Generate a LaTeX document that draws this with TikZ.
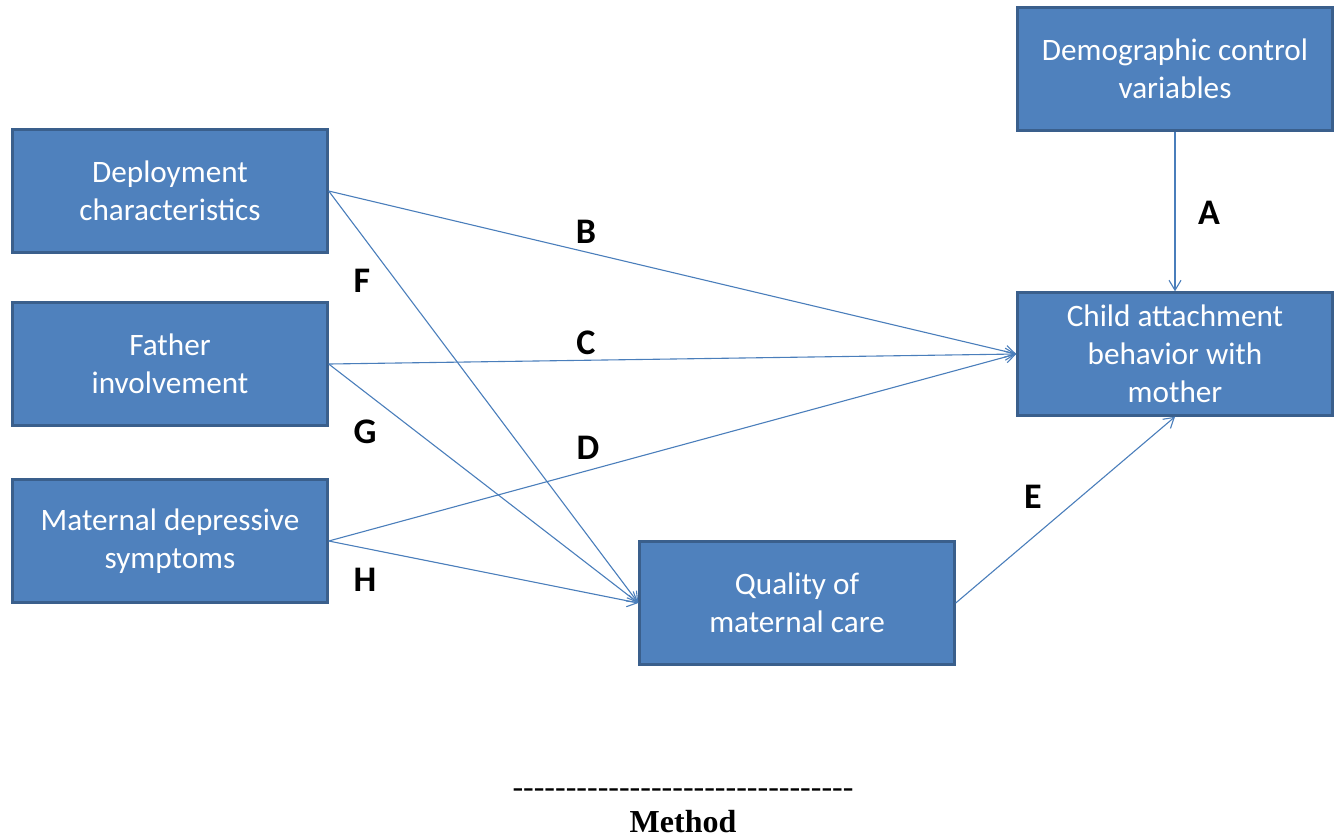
\documentclass[tikz,border=0pt]{standalone}
\usepackage{fontspec}
\setmainfont{Liberation Serif}
\newfontfamily\boxfont{Carlito}
\usetikzlibrary{arrows.meta}
\definecolor{boxblue}{HTML}{4F81BD}
\definecolor{boxedge}{HTML}{3A5F8C}
\definecolor{pathblue}{HTML}{4A7EBB}
\begin{document}
\begin{tikzpicture}
        [%%%%%%%%%%%%%%%%%%%%%%%%%%%%%%
        x=0.5pt, y=-0.5pt,
        box/.style={rectangle,draw=boxedge,line width=1.2pt,fill=boxblue,
          minimum width=157.5pt,minimum height=61.5pt,inner sep=0pt,
          align=center,text=white,font=\boxfont\fontsize{15.6}{19}\selectfont},
        path/.style={draw=pathblue,line width=0.55pt,
          -{Straight Barb[length=5pt,width=6pt]}},
        letter/.style={font=\boxfont\bfseries\fontsize{18}{20}\selectfont},
        ]%%%%%%%%%%%%%%%%%%%%%%%%%%%%%%
        \useasboundingbox (0,0) rectangle (1336,837);

        % boxes
        \node[box] (demo) at (1175,69) {Demographic control\\variables};
        \node[box] (deploy) at (170,191) {Deployment\\characteristics};
        \node[box] (father) at (170,364) {Father\\involvement};
        \node[box] (depress) at (170,541) {Maternal depressive\\symptoms};
        \node[box] (child) at (1175,354) {Child attachment\\behavior with\\mother};
        \node[box] (care) at (797,603) {Quality of\\maternal care};

        % paths
        \draw[path] (demo.south) -- (child.north);
        \draw[path] (deploy.east) -- (child.west);
        \draw[path] (father.east) -- (child.west);
        \draw[path] (depress.east) -- (child.west);
        \draw[path] (deploy.east) -- (care.west);
        \draw[path] (father.east) -- (care.west);
        \draw[path] (depress.east) -- (care.west);
        \draw[path] (care.east) -- (child.south);

        % path labels
        \node[letter] (lA) at (1209,213) {A};
        \node[letter] (lB) at (586,232) {B};
        \node[letter] (lC) at (586,343) {C};
        \node[letter] (lD) at (588,448) {D};
        \node[letter] (lE) at (1033,497) {E};
        \node[letter] (lF) at (362,281) {F};
        \node[letter] (lG) at (365,432) {G};
        \node[letter] (lH) at (365,580) {H};

        % caption
        \node[font=\fontsize{16}{18}\selectfont] (rule) at (683,793)
          {\foreach \i in {1,...,32}{-\kern0pt}};
        \node[anchor=base,font=\bfseries\fontsize{16}{18}\selectfont] (method) at (683,832) {Method};

      \end{tikzpicture}
\end{document}
